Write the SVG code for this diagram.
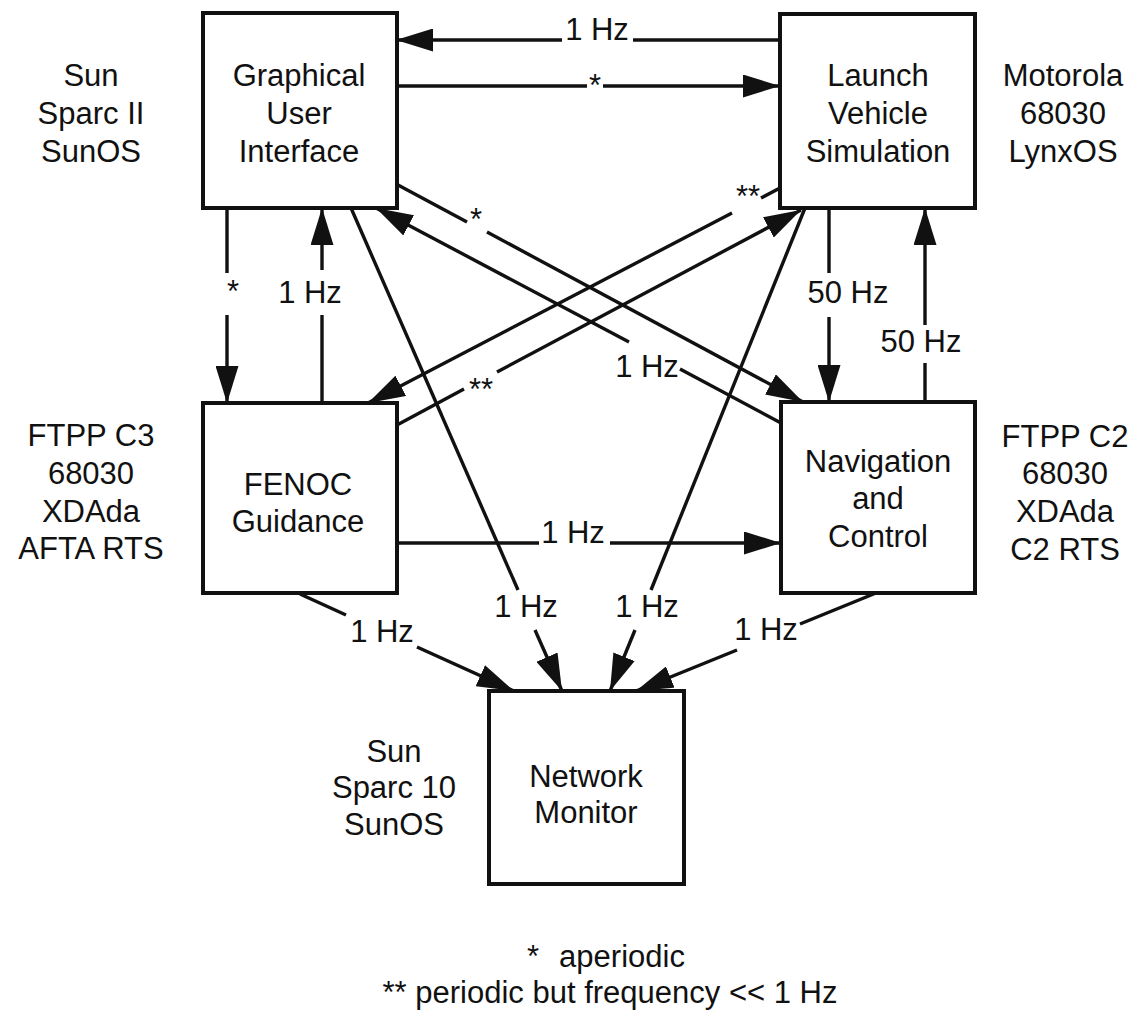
<svg xmlns="http://www.w3.org/2000/svg" width="1133" height="1023" viewBox="0 0 1133 1023">
<style>
text{font-family:"Liberation Sans",Arial,Helvetica,sans-serif;font-size:31px;fill:#111;text-anchor:middle}
.box{fill:#fff;stroke:#111;stroke-width:4}
.c{fill:none;stroke:#111;stroke-width:3.4}
.a{marker-end:url(#ah)}
</style>
<defs>
<marker id="ah" markerUnits="userSpaceOnUse" markerWidth="37" markerHeight="23" refX="37" refY="11.5" orient="auto">
<path d="M0,0 L37,11.5 L0,23 z" fill="#111"/>
</marker>
</defs>
<rect width="1133" height="1023" fill="#fff"/>

<g id="connectors">
<path class="c" d="M780,40 H633"/><path class="c a" d="M562,40 H396"/>
<text x="597" y="40">1 Hz</text>
<path class="c" d="M396,86 H587"/><path class="c a" d="M603,86 H780"/>
<text x="595" y="96">*</text>
<path class="c" d="M227,208 V273"/><path class="c a" d="M227,315 V403"/>
<text x="233" y="302">*</text>
<path class="c" d="M322,403 V315"/><path class="c a" d="M322,270 V208"/>
<text x="310" y="303">1 Hz</text>
<path class="c" d="M398,185 L467,222"/><path class="c a" d="M487,232 L803,402"/>
<text x="476" y="230">*</text>
<path class="c" d="M781,423 L680,369"/><path class="c a" d="M629,342 L376,208"/>
<text x="647" y="377">1 Hz</text>
<path class="c" d="M780,188 L761,198"/><path class="c a" d="M732,213 L368,403"/>
<text x="748" y="207">**</text>
<path class="c" d="M397,425 L464,389"/><path class="c a" d="M497,372 L801,210"/>
<text x="481" y="400">**</text>
<path class="c" d="M351,208 L518,590"/><path class="c a" d="M535,630 L562,691"/>
<text x="526" y="617">1 Hz</text>
<path class="c" d="M805,208 L651,590"/><path class="c a" d="M635,630 L610,691"/>
<text x="647" y="617">1 Hz</text>
<path class="c" d="M829,208 V273"/><path class="c a" d="M829,317 V402"/>
<text x="848" y="303">50 Hz</text>
<path class="c" d="M925,402 V363"/><path class="c a" d="M925,325 V208"/>
<text x="921" y="352">50 Hz</text>
<path class="c" d="M397,543 H539"/><path class="c a" d="M610,543 H781"/>
<text x="573" y="543">1 Hz</text>
<path class="c" d="M300,594 L346,615"/><path class="c a" d="M417,647 L514,691"/>
<text x="382" y="642">1 Hz</text>
<path class="c" d="M876,593 L800,624"/><path class="c a" d="M737,650 L636,691"/>
<text x="766" y="640">1 Hz</text>
</g>

<g id="gui">
<rect class="box" x="203" y="13" width="194" height="195"/>
<text x="299" y="86">Graphical</text>
<text x="299" y="124">User</text>
<text x="299" y="162">Interface</text>
</g>
<g id="lvs">
<rect class="box" x="780" y="14" width="195" height="194"/>
<text x="878" y="86">Launch</text>
<text x="878" y="124">Vehicle</text>
<text x="878" y="162">Simulation</text>
</g>
<g id="fenoc">
<rect class="box" x="203" y="403" width="194" height="190"/>
<text x="298" y="495">FENOC</text>
<text x="298" y="532">Guidance</text>
</g>
<g id="nav">
<rect class="box" x="781" y="402" width="194" height="191"/>
<text x="878" y="472">Navigation</text>
<text x="878" y="509">and</text>
<text x="878" y="547">Control</text>
</g>
<g id="nm">
<rect class="box" x="489" y="691" width="195" height="193"/>
<text x="586" y="787">Network</text>
<text x="586" y="823">Monitor</text>
</g>

<g id="platform-gui">
<text x="91" y="86">Sun</text>
<text x="91" y="124">Sparc II</text>
<text x="91" y="162">SunOS</text>
</g>
<g id="platform-lvs">
<text x="1063" y="86">Motorola</text>
<text x="1063" y="124">68030</text>
<text x="1063" y="162">LynxOS</text>
</g>
<g id="platform-fenoc">
<text x="91" y="446">FTPP C3</text>
<text x="91" y="484">68030</text>
<text x="91" y="522">XDAda</text>
<text x="91" y="559">AFTA RTS</text>
</g>
<g id="platform-nav">
<text x="1065" y="447">FTPP C2</text>
<text x="1065" y="484">68030</text>
<text x="1065" y="522">XDAda</text>
<text x="1065" y="560">C2 RTS</text>
</g>
<g id="platform-nm">
<text x="394" y="762">Sun</text>
<text x="394" y="798">Sparc 10</text>
<text x="394" y="835">SunOS</text>
</g>

<g id="legend">
<text x="533" y="967">*</text>
<text x="622" y="967">aperiodic</text>
<text x="610" y="1003">** periodic but frequency &lt;&lt; 1 Hz</text>
</g>
</svg>
